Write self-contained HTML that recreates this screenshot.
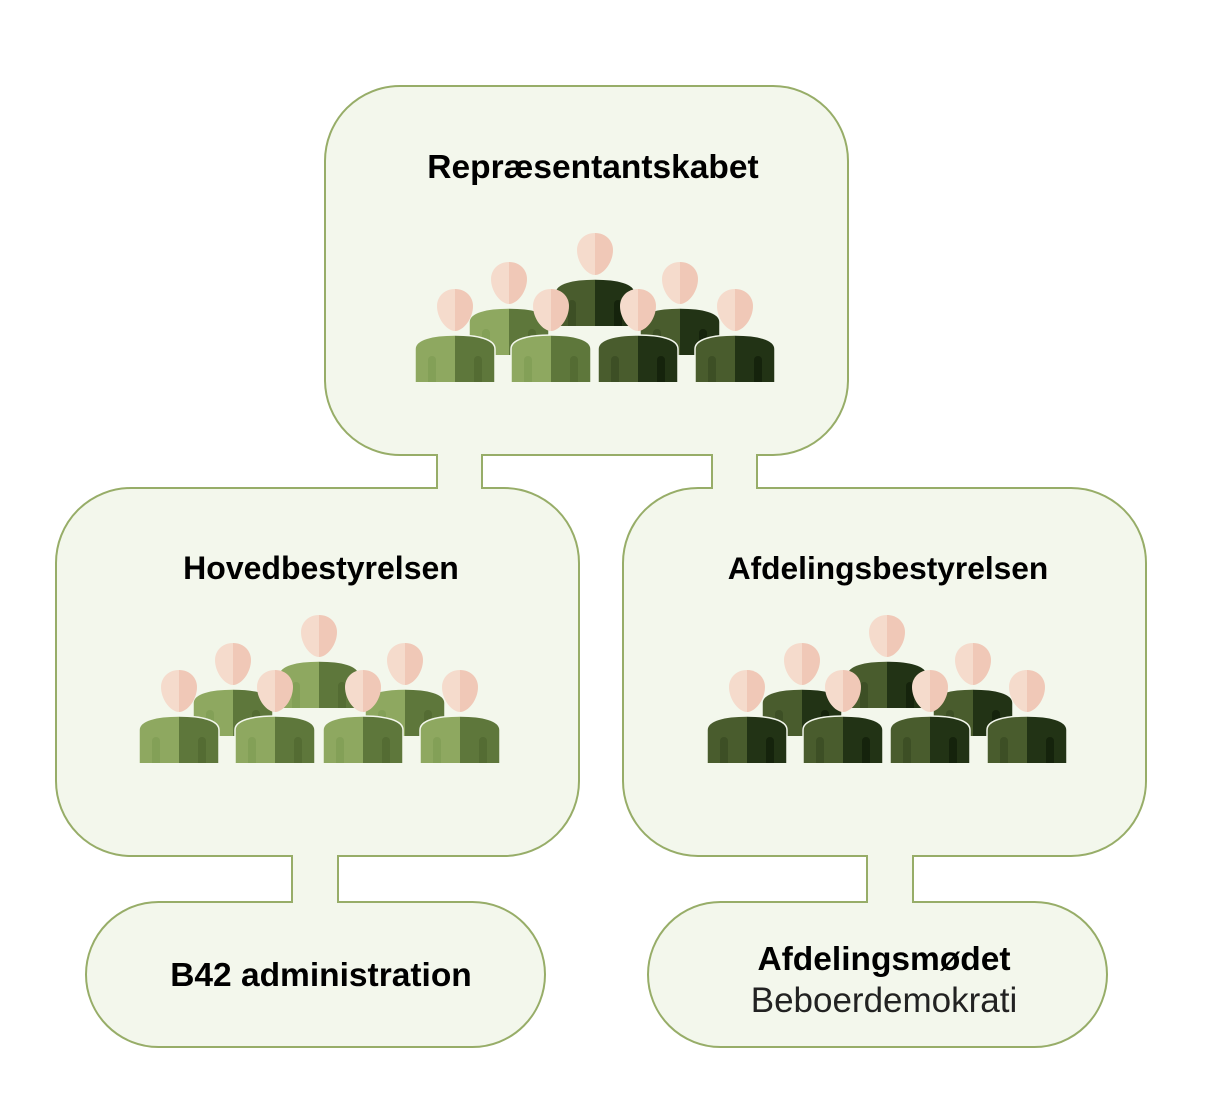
<!DOCTYPE html>
<html><head><meta charset="utf-8"><style>
html,body{margin:0;padding:0;background:#fff;}
svg{display:block;}
text{font-family:"Liberation Sans",Arial,sans-serif;}
</style></head><body>
<svg width="1218" height="1102" viewBox="0 0 1218 1102" xmlns="http://www.w3.org/2000/svg">
<defs>
<g id="pl">
  <path d="M-40,72 V39 C-40,29 -22,25 0,25 V72 Z" fill="#8ea860"/>
  <path d="M40,72 V39 C40,29 22,25 0,25 V72 Z" fill="#5e773b"/>
  <path d="M-27,72 V50 a4,4 0 0 1 8,0 V72 Z" fill="#83a057"/>
  <path d="M19,72 V50 a4,4 0 0 1 8,0 V72 Z" fill="#546c33"/>
  <path d="M-40,72 V39 C-40,29 -22,25 0,25 C22,25 40,29 40,39 V72" fill="none" stroke="#f3f7ec" stroke-width="1.5"/>
  <path d="M0,-21 C-11,-21 -18,-13 -18,-4 C-18,9 -8,21 0,21 Z" fill="#f5dbcc"/>
  <path d="M0,-21 C11,-21 18,-13 18,-4 C18,9 8,21 0,21 Z" fill="#f0c8b7"/>
</g>
<g id="pd">
  <path d="M-40,72 V39 C-40,29 -22,25 0,25 V72 Z" fill="#495c2d"/>
  <path d="M40,72 V39 C40,29 22,25 0,25 V72 Z" fill="#223315"/>
  <path d="M-27,72 V50 a4,4 0 0 1 8,0 V72 Z" fill="#3d4f25"/>
  <path d="M19,72 V50 a4,4 0 0 1 8,0 V72 Z" fill="#15230c"/>
  <path d="M-40,72 V39 C-40,29 -22,25 0,25 C22,25 40,29 40,39 V72" fill="none" stroke="#f3f7ec" stroke-width="1.5"/>
  <path d="M0,-21 C-11,-21 -18,-13 -18,-4 C-18,9 -8,21 0,21 Z" fill="#f5dbcc"/>
  <path d="M0,-21 C11,-21 18,-13 18,-4 C18,9 8,21 0,21 Z" fill="#f0c8b7"/>
</g>
</defs>
<g fill="#f3f7ec" stroke="#97ad68" stroke-width="2">
  <rect x="325" y="86" width="523" height="369" rx="75"/>
  <rect x="56" y="488" width="523" height="368" rx="75"/>
  <rect x="623" y="488" width="523" height="368" rx="75"/>
  <rect x="86" y="902" width="459" height="145" rx="72.5"/>
  <rect x="648" y="902" width="459" height="145" rx="72.5"/>
</g>
<g fill="#f3f7ec">
  <rect x="438" y="452" width="44" height="39"/>
  <rect x="713" y="452" width="44" height="39"/>
  <rect x="293" y="853" width="45" height="52"/>
  <rect x="868" y="853" width="45" height="52"/>
</g>
<g stroke="#97ad68" stroke-width="2">
  <line x1="437" y1="454" x2="437" y2="489"/><line x1="482" y1="454" x2="482" y2="489"/>
  <line x1="712" y1="454" x2="712" y2="489"/><line x1="757" y1="454" x2="757" y2="489"/>
  <line x1="292" y1="855" x2="292" y2="903"/><line x1="338" y1="855" x2="338" y2="903"/>
  <line x1="867" y1="855" x2="867" y2="903"/><line x1="913" y1="855" x2="913" y2="903"/>
</g>

<use href="#pd" x="595" y="254"/>
<use href="#pl" x="509" y="283"/>
<use href="#pd" x="680" y="283"/>
<use href="#pl" x="455" y="310"/>
<use href="#pl" x="551" y="310"/>
<use href="#pd" x="638" y="310"/>
<use href="#pd" x="735" y="310"/>

<use href="#pl" x="319" y="636"/>
<use href="#pl" x="233" y="664"/>
<use href="#pl" x="405" y="664"/>
<use href="#pl" x="179" y="691"/>
<use href="#pl" x="275" y="691"/>
<use href="#pl" x="363" y="691"/>
<use href="#pl" x="460" y="691"/>

<use href="#pd" x="887" y="636"/>
<use href="#pd" x="802" y="664"/>
<use href="#pd" x="973" y="664"/>
<use href="#pd" x="747" y="691"/>
<use href="#pd" x="843" y="691"/>
<use href="#pd" x="930" y="691"/>
<use href="#pd" x="1027" y="691"/>

<g font-weight="bold" fill="#000" text-anchor="middle">
  <text x="593" y="178" font-size="33.5">Repræsentantskabet</text>
  <text x="321" y="579" font-size="32">Hovedbestyrelsen</text>
  <text x="888" y="579" font-size="31.7">Afdelingsbestyrelsen</text>
  <text x="321" y="986" font-size="33.5">B42 administration</text>
  <text x="884" y="970" font-size="33.5">Afdelingsmødet</text>
</g>
<text x="884" y="1012" font-size="35" fill="#222" text-anchor="middle">Beboerdemokrati</text>
</svg>
</body></html>
